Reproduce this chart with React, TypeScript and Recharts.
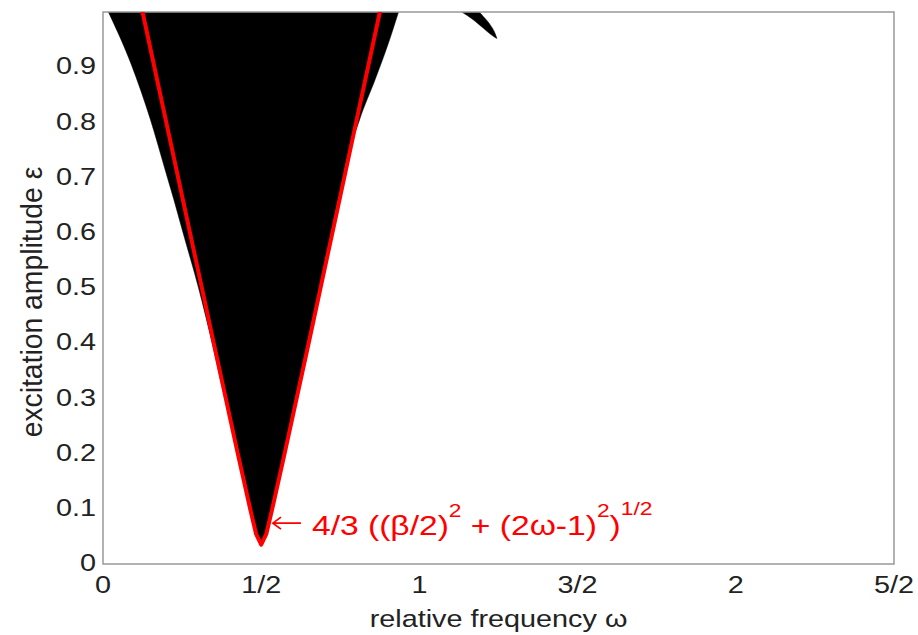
import React from "react";
import {
  ComposedChart,
  Area,
  Line,
  XAxis,
  YAxis,
  ReferenceArea,
  ReferenceDot,
} from "recharts";

const FONT = "'Liberation Sans', Arial, Helvetica, sans-serif";

const xTicks = [0, 0.5, 1, 1.5, 2, 2.5];
const xTickLabels = ["0", "1/2", "1", "3/2", "2", "5/2"];
const yTicks = [0, 0.1, 0.2, 0.3, 0.4, 0.5, 0.6, 0.7, 0.8, 0.9];

// main tongue: lower edge of the black region, it is filled up to the top of the frame
const tongueOmega = [
  0.017, 0.09, 0.15, 0.199, 0.224, 0.253, 0.302, 0.345, 0.385, 0.43, 0.466,
  0.486, 0.5, 0.514, 0.534, 0.57, 0.612, 0.65, 0.687, 0.725, 0.747, 0.762,
  0.811, 0.861, 0.9, 0.934,
];
const tongueEps = [
  1.0, 0.904, 0.805, 0.709, 0.66, 0.6, 0.5, 0.4, 0.3, 0.2, 0.1, 0.055, 0.036,
  0.055, 0.1, 0.2, 0.3, 0.4, 0.5, 0.6, 0.66, 0.709, 0.805, 0.879, 0.94, 1.0,
];

// small sliver near the top, right of omega = 1
const sliverOmega = [1.134, 1.171, 1.187, 1.2025, 1.224, 1.239, 1.245];
const sliverLow = [1.0, 0.9855, 0.978, 0.9705, 0.96, 0.954, 0.952];
const sliverHigh = [1.0, 1.0, 1.0, 0.9915, 0.9765, 0.9615, 0.952];

// red estimate 4/3 ((b/2)^2 + (2w-1)^2)^(1/2)
const redOmega = [
  0.125, 0.2, 0.275, 0.35, 0.426, 0.465, 0.484, 0.5, 0.516, 0.535, 0.574,
  0.65, 0.725, 0.8, 0.875,
];
const redEps = [
  1.0, 0.8, 0.6, 0.4, 0.2, 0.1, 0.054, 0.035, 0.054, 0.1, 0.2, 0.4, 0.6, 0.8,
  1.0,
];

const tongueData = tongueOmega.map((w, i) => ({ w, band: [tongueEps[i], 1] }));
const sliverData = sliverOmega.map((w, i) => ({
  w,
  band: [sliverLow[i], sliverHigh[i]],
}));
const redData = redOmega.map((w, i) => ({ w, eps: redEps[i] }));

function XTick({ x, y, payload }: any) {
  const label = xTickLabels[xTicks.indexOf(payload.value)];
  return (
    <text
      transform={`translate(${x},${y + 13}) scale(1.2,1)`}
      textAnchor="middle"
      dominantBaseline="central"
      fontSize={24}
      fontFamily={FONT}
      fill="#222"
    >
      {label}
    </text>
  );
}

function YTick({ x, y, payload }: any) {
  const v = payload.value;
  return (
    <text
      transform={`translate(${x + 1},${y - 1}) scale(1.2,1)`}
      textAnchor="end"
      dominantBaseline="central"
      fontSize={24}
      fontFamily={FONT}
      fill="#222"
    >
      {v === 0 ? "0" : v.toFixed(1)}
    </text>
  );
}

function XTitle({ viewBox }: any) {
  const cx = viewBox.x + viewBox.width / 2;
  return (
    <text
      transform={`translate(${cx},627) scale(1.2,1)`}
      textAnchor="middle"
      fontSize={24}
      fontFamily={FONT}
      fill="#222"
    >
      relative frequency ω
    </text>
  );
}

function YTitle({ viewBox }: any) {
  const cy = viewBox.y + viewBox.height / 2 + 14;
  return (
    <text
      transform={`translate(42,${cy}) rotate(-90) scale(1.18,1.2)`}
      textAnchor="middle"
      fontSize={24}
      fontFamily={FONT}
      fill="#222"
    >
      excitation amplitude ε
    </text>
  );
}

function Formula({ viewBox }: any) {
  const { x, y } = viewBox;
  return (
    <g fill="#f00" fontFamily={FONT}>
      <path
        d={`M${x + 29},${y} L${x + 1},${y} M${x + 9},${y - 6} L${x + 1},${y} L${x + 9},${y + 6}`}
        stroke="#f00"
        strokeWidth={1.8}
        fill="none"
      />
      <text
        transform={`translate(${x + 40},${y + 11.7}) scale(1.2,1)`}
        fontSize={28}
      >
        4/3 ((β/2)
        <tspan dy={-18} fontSize={19}>
          2
        </tspan>
        <tspan dy={18}> + (2ω-1)</tspan>
        <tspan dy={-18} fontSize={19}>
          2
        </tspan>
        <tspan dy={18}>)</tspan>
        <tspan dy={-20} fontSize={19}>
          1/2
        </tspan>
      </text>
    </g>
  );
}

export default function App() {
  return (
    <div style={{ position: "absolute", left: 0, top: 0, background: "#fff" }}>
      <ComposedChart
        width={918}
        height={635}
        margin={{ top: 12, right: 24, bottom: 0, left: 0 }}
      >
        <XAxis
          type="number"
          dataKey="w"
          domain={[0, 2.5]}
          ticks={xTicks}
          interval={0}
          height={71}
          axisLine={false}
          tickLine={false}
          tick={<XTick />}
          label={<XTitle />}
          allowDataOverflow
        />
        <YAxis
          type="number"
          domain={[0, 1]}
          ticks={yTicks}
          interval={0}
          width={103}
          axisLine={false}
          tickLine={false}
          tick={<YTick />}
          label={<YTitle />}
          allowDataOverflow
        />
        <Area
          data={tongueData}
          dataKey="band"
          type="monotoneX"
          fill="#000"
          fillOpacity={1}
          stroke="#000"
          strokeWidth={0.5}
          isAnimationActive={false}
          dot={false}
          activeDot={false}
        />
        <Area
          data={sliverData}
          dataKey="band"
          type="monotoneX"
          fill="#000"
          fillOpacity={1}
          stroke="#000"
          strokeWidth={0.5}
          isAnimationActive={false}
          dot={false}
          activeDot={false}
        />
        <Line
          data={redData}
          dataKey="eps"
          type="linear"
          stroke="#f00"
          strokeWidth={4}
          strokeLinejoin="round"
          strokeLinecap="round"
          dot={false}
          activeDot={false}
          isAnimationActive={false}
        />
        <ReferenceArea
          x1={0}
          x2={2.5}
          y1={0}
          y2={1}
          fill="none"
          stroke="#999"
          strokeWidth={1.5}
        />
        <ReferenceDot
          x={0.534}
          y={0.074}
          r={0}
          fill="none"
          stroke="none"
          label={<Formula />}
        />
      </ComposedChart>
    </div>
  );
}
